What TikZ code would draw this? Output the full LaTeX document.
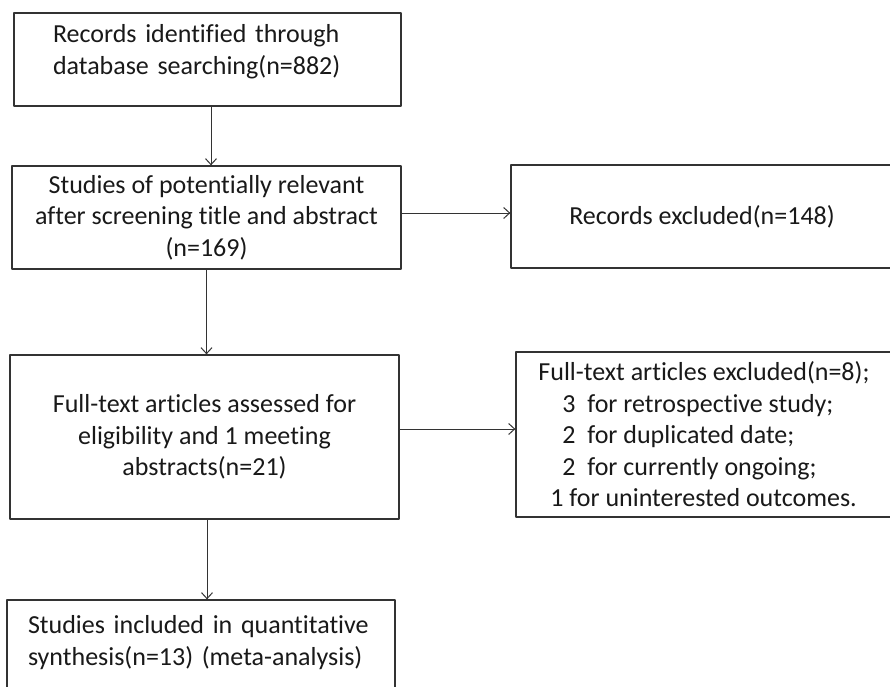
\documentclass[tikz,border=0pt]{standalone}
\usepackage{fontspec}
\setmainfont{Carlito}[Ligatures={NoCommon}]
\usepackage{tikz}
\usetikzlibrary{arrows.meta,calc}
\tikzset{>={Straight Barb[length=6pt,width=11pt]}}
\tikzset{box/.style={draw=black!80,line width=1.3pt,inner sep=0pt,text=black!90,font=\fontsize{26pt}{31.5pt}\selectfont},
	arr/.style={->,draw=black!80,line width=1pt}}

\begin{document}
\begin{tikzpicture}[line cap=round,line join=round,x=1pt,y=-1pt]
		\useasboundingbox (0,0) rectangle (890,686);
		\fill[white] (0,0) rectangle (890,686);
		\node[box,minimum width=387,minimum height=93,inner xsep=39pt,text width=309pt,align=left] (ident) at (207.5,59.5) {Records identified through\\database searching(n=882)\rule[-20pt]{0pt}{0pt}};
		\node[box,minimum width=389,minimum height=103,align=center] (screen) at (206.5,217.5) {Studies of potentially relevant\\after screening title and abstract\\(n=169)};
		\node[box,minimum width=382,minimum height=103,align=center] (recex) at (702,216.5) {Records excluded(n=148)};
		\node[box,minimum width=389,minimum height=164,align=center] (elig) at (204.5,437) {Full-text articles assessed for\\eligibility and 1 meeting\\abstracts(n=21)};
		\node[box,minimum width=376,minimum height=165,align=left] (fullex) at (704,434.5) {Full-text articles excluded(n=8);\\\hspace*{24pt}3\ \ for retrospective study;\\\hspace*{24pt}2\ \ for duplicated date;\\\hspace*{24pt}2\ \ for currently ongoing;\\\hspace*{12pt}1 for uninterested outcomes.};
		\node[box,minimum width=388,minimum height=130,inner xsep=21pt,text width=346pt,align=left] (incl) at (201,665) {Studies included in quantitative\\synthesis(n=13) (meta-analysis)\rule[-49pt]{0pt}{0pt}};
		\draw[arr] ([xshift=3.5pt]ident.south) -- ([xshift=3.5pt]ident.south |- screen.north);
		\draw[arr] ([yshift=4.5pt]screen.east) -- ([yshift=4.5pt]screen.east -| recex.west);
		\draw[arr] (screen.south) -- (screen.south |- elig.north);
		\draw[arr] ([yshift=8pt]elig.east) -- ([yshift=8pt]elig.east -| fullex.west);
		\draw[arr] ([xshift=2.5pt]elig.south) -- ([xshift=2.5pt]elig.south |- incl.north);
		\end{tikzpicture}
\end{document}
